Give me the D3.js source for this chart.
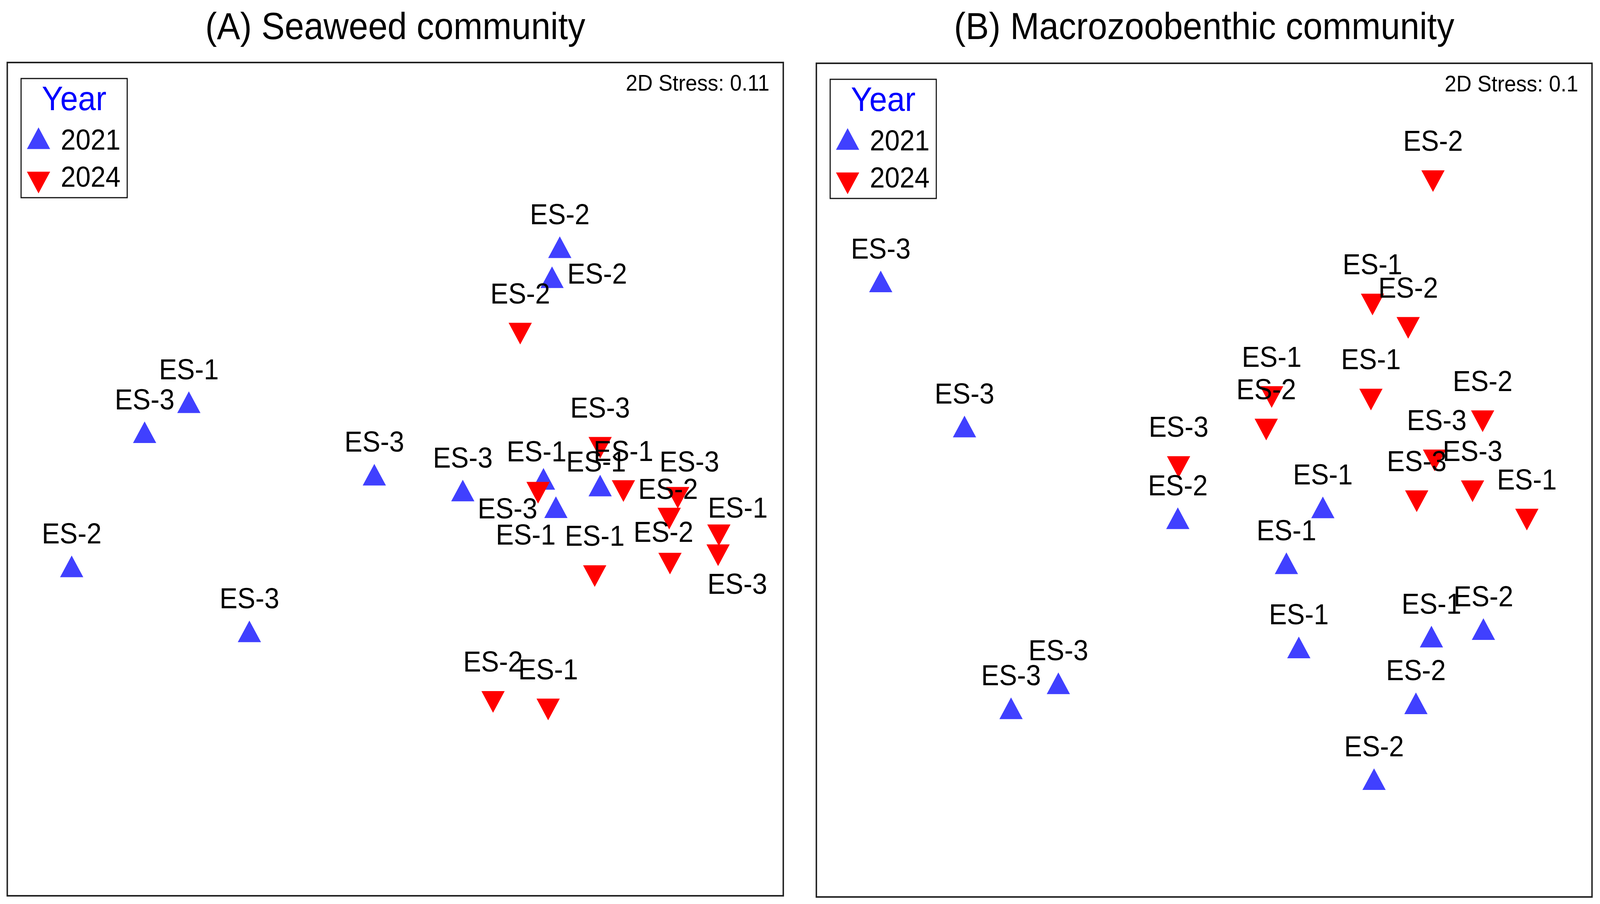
<!DOCTYPE html><html><head><meta charset="UTF-8"><script src="https://d3js.org/d3.v7.min.js"></script><style>
            html, body { margin: 0; padding: 0; background: #fff; overflow: hidden; }
            svg { display: block; width: 100vw; height: 100vh; font-family: "Liberation Sans", Arial, sans-serif; }
        </style></head><body><div id="chart"></div><script>
            // nMDS ordination scores (relative units 0-100 of each panel)
            const years = ["2021", "2024"];

            const seaweed2021Site = ["ES-2","ES-2","ES-1","ES-3","ES-2","ES-3","ES-3","ES-3","ES-1","ES-1","ES-1"];
            const seaweed2021X = [71.2, 70.2, 23.4, 17.7, 8.3, 31.2, 47.3, 58.7, 69.1, 70.7, 76.4];
            const seaweed2021Y = [77.4, 73.8, 58.8, 55.2, 39.1, 31.3, 50.1, 48.2, 49.6, 46.2, 48.8];

            const seaweed2024Site = ["ES-2","ES-3","ES-3","ES-1","ES-3","ES-2","ES-1","ES-3","ES-2","ES-1","ES-2","ES-1"];
            const seaweed2024X = [66.1, 76.4, 68.4, 79.4, 86.4, 85.3, 91.7, 91.6, 85.4, 75.7, 62.6, 69.7];
            const seaweed2024Y = [67.9, 54.2, 48.8, 49.0, 48.2, 45.7, 43.7, 41.3, 40.3, 38.8, 23.7, 22.8];

            const benthos2021Site = ["ES-3","ES-3","ES-2","ES-1","ES-1","ES-1","ES-1","ES-2","ES-2","ES-2","ES-3","ES-3"];
            const benthos2021X = [8.3, 19.1, 46.6, 65.3, 60.6, 62.2, 79.3, 86.0, 77.3, 71.9, 31.2, 25.1];
            const benthos2021Y = [73.4, 56.0, 45.0, 46.3, 39.6, 29.5, 30.8, 31.7, 22.8, 13.7, 25.2, 22.2];

            const benthos2024Site = ["ES-2","ES-1","ES-2","ES-1","ES-1","ES-2","ES-3","ES-2","ES-3","ES-3","ES-3","ES-1"];
            const benthos2024X = [79.5, 71.7, 76.3, 71.5, 58.7, 58.0, 46.7, 85.9, 79.7, 77.4, 84.6, 91.6];
            const benthos2024Y = [86.3, 71.5, 68.7, 60.1, 60.4, 56.5, 52.0, 57.5, 52.8, 47.9, 49.1, 45.7];

            const panelTitles = ["(A) Seaweed community", "(B) Macrozoobenthic community"];
            const stressValues = ["0.11", "0.1"];

            // layout
            const W = 4402, H = 2314;
            const panels = [
                {left: 20, right: 2155, top: 160, bottom: 2293,
                 sets: [[seaweed2021Site, seaweed2021X, seaweed2021Y], [seaweed2024Site, seaweed2024X, seaweed2024Y]]},
                {left: 2246, right: 4380, top: 162, bottom: 2296,
                 sets: [[benthos2021Site, benthos2021X, benthos2021Y], [benthos2024Site, benthos2024X, benthos2024Y]]}
            ];
            const colors = {"2021": "#4040ff", "2024": "#ff0000"};
            const labelFont = 74;

            // hand placed labels where PRIMER moved them off the default spot
            const labelNudge = {
                "0-2021-1": {anchor: "start", dx: 42, dy: 7},
                "0-2021-8": {dx: -19, dy: -54},
                "0-2021-9": {dx: -83, dy: 86},
                "0-2021-10": {dx: -11, dy: -45},
                "0-2024-2": {dx: -84, dy: 75},
                "0-2024-4": {dx: 32, dy: -58},
                "0-2024-5": {dx: -3, dy: -41},
                "0-2024-6": {dx: 52, dy: -36},
                "0-2024-7": {dx: 53, dy: 108},
                "0-2024-8": {dx: -18, dy: -46},
                "1-2024-8": {dx: 6, dy: -68}
            };

            // drawing is laid out on the 4402x2314 figure and stretched to fill the window
            const svg = d3.select('#chart')
                .append('svg')
                .attr('viewBox', `0 0 ${W} ${H}`)
                .attr('preserveAspectRatio', 'none');

            svg.append('rect').attr('width', W).attr('height', H).attr('fill', '#fff');

            const tri = d3.symbol(d3.symbolTriangle, 1774);

            panels.forEach((p, pi) => {
                const x = d3.scaleLinear().domain([0, 100]).range([p.left, p.right]);
                const y = d3.scaleLinear().domain([0, 100]).range([p.bottom, p.top]);
                const g = svg.append('g');

                g.append('text')
                    .attr('x', (p.left + p.right) / 2)
                    .attr('y', 100)
                    .attr('text-anchor', 'middle')
                    .attr('font-size', 96)
                    .attr('fill', '#000')
                    .text(panelTitles[pi]);

                g.append('rect')
                    .attr('x', p.left).attr('y', p.top)
                    .attr('width', p.right - p.left).attr('height', p.bottom - p.top)
                    .attr('fill', 'none').attr('stroke', '#222').attr('stroke-width', 4);

                g.append('text')
                    .attr('x', p.right - 38)
                    .attr('y', p.top + 72)
                    .attr('text-anchor', 'end')
                    .attr('font-size', 58)
                    .text('2D Stress: ' + stressValues[pi]);

                // points, 2021 first so 2024 sits on top
                const pts = [];
                p.sets.forEach((s, yi) => {
                    s[0].forEach((site, i) => pts.push({year: years[yi], site: site, x: s[1][i], y: s[2][i], key: pi + '-' + years[yi] + '-' + i}));
                });

                g.selectAll('.pt')
                    .data(pts)
                    .enter().append('path')
                    .attr('class', 'pt')
                    .attr('d', tri)
                    .attr('fill', d => colors[d.year])
                    .attr('transform', d => `translate(${x(d.x)},${y(d.y)})` + (d.year === '2024' ? ' rotate(180)' : ''));

                g.selectAll('.lab')
                    .data(pts)
                    .enter().append('text')
                    .attr('class', 'lab')
                    .attr('font-size', labelFont)
                    .attr('text-anchor', d => (labelNudge[d.key] && labelNudge[d.key].anchor) || 'middle')
                    .attr('x', d => x(d.x) + (labelNudge[d.key] ? labelNudge[d.key].dx : 0))
                    .attr('y', d => y(d.y) + (labelNudge[d.key] ? labelNudge[d.key].dy : -68))
                    .text(d => d.site);

                // legend
                const lx = p.left + 38, ly = p.top + 41;
                const leg = g.append('g');
                leg.append('rect')
                    .attr('x', lx).attr('y', ly)
                    .attr('width', 292).attr('height', 305)
                    .attr('fill', '#fff').attr('stroke', '#111').attr('stroke-width', 3);
                leg.append('text')
                    .attr('x', lx + 146).attr('y', ly + 81)
                    .attr('text-anchor', 'middle')
                    .attr('font-size', 88)
                    .attr('fill', '#0000ff')
                    .text('Year');
                years.forEach((yr, k) => {
                    leg.append('path')
                        .attr('d', tri)
                        .attr('fill', colors[yr])
                        .attr('transform', `translate(${lx + 48},${ly + 162 + k * 95})` + (k === 1 ? ' rotate(180)' : ''));
                    leg.append('text')
                        .attr('x', lx + 109).attr('y', ly + 182 + k * 95)
                        .attr('font-size', labelFont)
                        .text(yr);
                });
            });
        </script></body></html>
